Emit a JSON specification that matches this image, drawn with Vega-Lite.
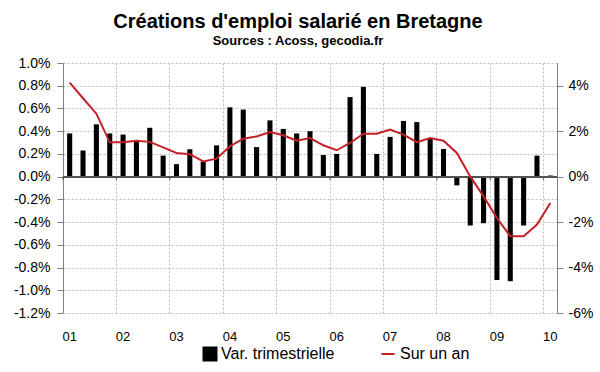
{
  "$schema": "https://vega.github.io/schema/vega-lite/v6.json",
  "autosize": {"type": "none"},
  "width": 494,
  "height": 250,
  "padding": {"left": 63, "top": 63, "right": 43, "bottom": 59},
  "background": "white",
  "config": {
    "font": "Liberation Sans",
    "view": {"stroke": null},
    "axis": {"labelFont": "Liberation Sans", "labelColor": "#000000", "domainColor": "#808080", "tickColor": "#808080", "gridColor": "#bdbdbd", "gridDash": [2, 2], "gridWidth": 1, "labelOverlap": false, "labelFlush": false, "labelBound": false},
    "legend": {"labelFont": "Liberation Sans", "labelColor": "#000000"}
  },
  "title": {
    "text": "Créations d'emploi salarié en Bretagne",
    "subtitle": "Sources : Acoss, gecodia.fr",
    "fontSize": 20,
    "fontWeight": "bold",
    "color": "#000000",
    "subtitleFontSize": 13,
    "subtitleFontWeight": "bold",
    "subtitleColor": "#000000",
    "subtitlePadding": 3,
    "anchor": "middle",
    "dx": -12,
    "offset": 8
  },
  "datasets": {
    "q": [
      {"q": "2001-1", "var": 0.38, "an": 4.14},
      {"q": "2001-2", "var": 0.23, "an": 3.45},
      {"q": "2001-3", "var": 0.46, "an": 2.77},
      {"q": "2001-4", "var": 0.38, "an": 1.51},
      {"q": "2002-1", "var": 0.37, "an": 1.51},
      {"q": "2002-2", "var": 0.31, "an": 1.58},
      {"q": "2002-3", "var": 0.43, "an": 1.53},
      {"q": "2002-4", "var": 0.185, "an": 1.29},
      {"q": "2003-1", "var": 0.11, "an": 1.04},
      {"q": "2003-2", "var": 0.24, "an": 0.99},
      {"q": "2003-3", "var": 0.13, "an": 0.67},
      {"q": "2003-4", "var": 0.275, "an": 0.79},
      {"q": "2004-1", "var": 0.61, "an": 1.33},
      {"q": "2004-2", "var": 0.59, "an": 1.67},
      {"q": "2004-3", "var": 0.26, "an": 1.77},
      {"q": "2004-4", "var": 0.495, "an": 1.96},
      {"q": "2005-1", "var": 0.42, "an": 1.82},
      {"q": "2005-2", "var": 0.38, "an": 1.58},
      {"q": "2005-3", "var": 0.40, "an": 1.70},
      {"q": "2005-4", "var": 0.19, "an": 1.38},
      {"q": "2006-1", "var": 0.20, "an": 1.16},
      {"q": "2006-2", "var": 0.70, "an": 1.48},
      {"q": "2006-3", "var": 0.79, "an": 1.89},
      {"q": "2006-4", "var": 0.20, "an": 1.89},
      {"q": "2007-1", "var": 0.35, "an": 2.07},
      {"q": "2007-2", "var": 0.49, "an": 1.85},
      {"q": "2007-3", "var": 0.48, "an": 1.52},
      {"q": "2007-4", "var": 0.34, "an": 1.70},
      {"q": "2008-1", "var": 0.243, "an": 1.58},
      {"q": "2008-2", "var": -0.077, "an": 1.04},
      {"q": "2008-3", "var": -0.43, "an": 0.01},
      {"q": "2008-4", "var": -0.41, "an": -0.87},
      {"q": "2009-1", "var": -0.91, "an": -1.82},
      {"q": "2009-2", "var": -0.92, "an": -2.62},
      {"q": "2009-3", "var": -0.43, "an": -2.62},
      {"q": "2009-4", "var": 0.185, "an": -2.11},
      {"q": "2010-1", "var": 0.01, "an": -1.16}
    ],
    "years": [
      {"q": "2001-1"}, {"q": "2002-1"}, {"q": "2003-1"}, {"q": "2004-1"}, {"q": "2005-1"},
      {"q": "2006-1"}, {"q": "2007-1"}, {"q": "2008-1"}, {"q": "2009-1"}, {"q": "2010-1"}
    ]
  },
  "layer": [
    {
      "layer": [
        {
          "data": {"name": "q"},
          "mark": {"type": "bar", "width": {"band": 0.38}},
          "encoding": {
            "x": {
              "field": "q", "type": "ordinal", "sort": null,
              "scale": {"paddingInner": 0, "paddingOuter": 0},
              "axis": {
                "title": null, "bandPosition": 0,
                "values": ["2001-1", "2002-1", "2003-1", "2004-1", "2005-1", "2006-1", "2007-1", "2008-1", "2009-1", "2010-1"],
                "labelExpr": "substring(datum.value, 2, 4)",
                "labelAlign": "center", "labelAngle": 0, "labelFontSize": 13,
                "labelPadding": 17, "ticks": false, "tickSize": 0, "domain": false,
                "grid": true, "labelOverlap": false
              }
            },
            "y": {
              "field": "var", "type": "quantitative",
              "scale": {"domain": [-1.2, 1.0], "nice": false, "zero": false},
              "axis": {
                "title": null,
                "values": [-1.2, -1.0, -0.8, -0.6, -0.4, -0.2, 0, 0.2, 0.4, 0.6, 0.8, 1.0],
                "labelExpr": "(datum.value < -0.0001 ? '-' : '') + format(abs(datum.value), '.1f') + '%'",
                "labelFontSize": 14, "tickSize": 6, "labelPadding": 7, "grid": true,
                "labelOverlap": false, "labelFlush": false, "labelBound": false
              }
            },
            "fill": {
              "datum": "Var. trimestrielle", "type": "nominal",
              "scale": {"range": ["#000000"]},
              "legend": {
                "title": null, "orient": "none", "legendX": 139, "legendY": 283,
                "symbolType": "square", "symbolSize": 225, "symbolStrokeWidth": 0,
                "labelFontSize": 16, "labelOffset": 3
              }
            }
          }
        },
        {
          "data": {"name": "q"},
          "mark": {"type": "rule", "color": "#555555", "strokeWidth": 1},
          "encoding": {
            "y": {
              "datum": 0, "type": "quantitative",
              "axis": {
                "title": null,
                "values": [-1.2, -1.0, -0.8, -0.6, -0.4, -0.2, 0, 0.2, 0.4, 0.6, 0.8, 1.0],
                "labelExpr": "(datum.value < -0.0001 ? '-' : '') + format(abs(datum.value), '.1f') + '%'",
                "labelFontSize": 14, "tickSize": 6, "labelPadding": 7, "grid": true,
                "labelOverlap": false, "labelFlush": false, "labelBound": false
              }
            }
          }
        },
        {
          "data": {"name": "years"},
          "mark": {"type": "rule", "color": "#555555", "strokeWidth": 1},
          "encoding": {
            "x": {"field": "q", "type": "ordinal", "bandPosition": 0},
            "y": {
              "datum": 0, "type": "quantitative",
              "axis": {
                "title": null,
                "values": [-1.2, -1.0, -0.8, -0.6, -0.4, -0.2, 0, 0.2, 0.4, 0.6, 0.8, 1.0],
                "labelExpr": "(datum.value < -0.0001 ? '-' : '') + format(abs(datum.value), '.1f') + '%'",
                "labelFontSize": 14, "tickSize": 6, "labelPadding": 7, "grid": true,
                "labelOverlap": false, "labelFlush": false, "labelBound": false
              }
            },
            "y2": {"datum": -0.03}
          }
        }
      ]
    },
    {
      "data": {"name": "q"},
      "mark": {"type": "line", "strokeWidth": 2, "color": "#c42127"},
      "encoding": {
        "x": {"field": "q", "type": "ordinal", "sort": null},
        "y": {
          "field": "an", "type": "quantitative",
          "scale": {"domain": [-6, 5], "nice": false, "zero": false},
          "axis": {
            "title": null, "orient": "right",
            "values": [-6, -4, -2, 0, 2, 4],
            "labelExpr": "(datum.value < 0 ? '-' : '') + format(abs(datum.value), 'd') + '%'",
            "labelFontSize": 14, "tickSize": 6, "labelPadding": 5, "grid": false,
            "labelOverlap": false
          }
        },
        "stroke": {
          "datum": "Sur un an", "type": "nominal",
          "scale": {"range": ["#c42127"]},
          "legend": {
            "title": null, "orient": "none", "legendX": 317, "legendY": 283,
            "symbolType": "stroke", "symbolSize": 169, "symbolStrokeWidth": 2,
            "labelFontSize": 16, "labelOffset": 4
          }
        }
      }
    }
  ],
  "resolve": {"scale": {"y": "independent", "fill": "independent", "stroke": "independent"}}
}
